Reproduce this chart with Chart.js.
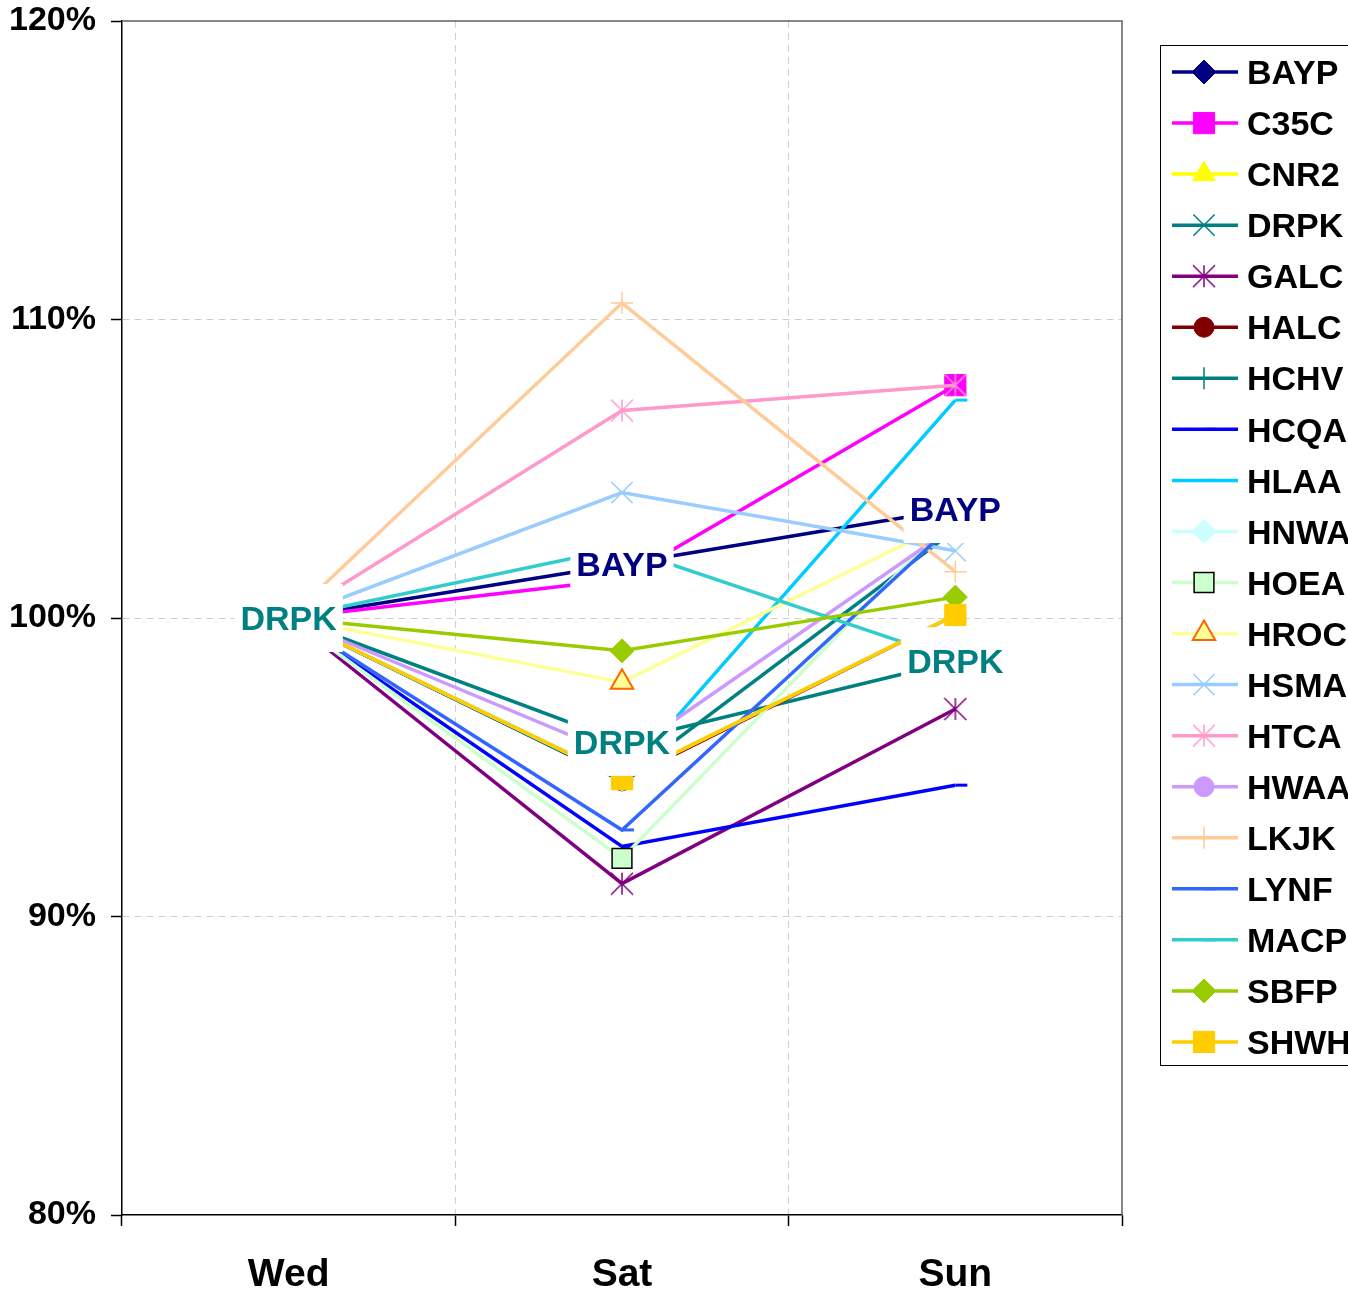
<!DOCTYPE html>
<html>
<head>
<meta charset="utf-8">
<script src="https://cdn.jsdelivr.net/npm/chart.js@4.4.1/dist/chart.umd.min.js"></script>
<style>
  html, body { margin: 0; padding: 0; background: #ffffff; overflow: hidden; }
  canvas { display: block; }
</style>
</head>
<body>
<canvas id="chart" width="1348" height="1295"></canvas>
<script>
// Categories (days) and y-axis ticks, in percent of the Wednesday baseline
const days = ['Wed', 'Sat', 'Sun'];
const yTicks = [80, 90, 100, 110, 120];

// Series values, percent
const BAYP = [100, 101.8, 103.65];
const C35C = [100, 101.3, 107.8];
const CNR2 = [100, 94.6, 100.1];
const DRPK = [100, 95.85, 98.55];
const GALC = [100, 91.1, 96.95];
const HALC = [100, 94.55, 100.1];
const HCHV = [100, 94.55, 102.95];
const HCQA = [100, 92.35, 94.4];
const HLAA = [100, 94.6, 107.3];
const HNWA = [100, 94.6, 100.1];
const HOEA = [100, 91.95, 103.5];
const HROC = [100, 97.85, 103.3];
const HSMA = [100, 104.2, 102.25];
const HTCA = [100, 106.95, 107.8];
const HWAA = [100, 95.35, 103.1];
const LKJK = [100, 110.55, 101.55];
const LYNF = [100, 92.9, 103.2];
const MACP = [100, 102.35, 98.6];
const SBFP = [100, 98.9, 100.7];
const SHWH = [100, 94.6, 100.1];

const seriesNames = ['BAYP','C35C','CNR2','DRPK','GALC','HALC','HCHV','HCQA','HLAA','HNWA',
                     'HOEA','HROC','HSMA','HTCA','HWAA','LKJK','LYNF','MACP','SBFP','SHWH'];
const seriesValues = [BAYP, C35C, CNR2, DRPK, GALC, HALC, HCHV, HCQA, HLAA, HNWA,
                      HOEA, HROC, HSMA, HTCA, HWAA, LKJK, LYNF, MACP, SBFP, SHWH];

// Points that carry a name label
const labelledPoints = [
  { series: 'BAYP', index: 1 }, { series: 'BAYP', index: 2 },
  { series: 'DRPK', index: 0 }, { series: 'DRPK', index: 1 }, { series: 'DRPK', index: 2 }
];

// Line and marker styles per series
const seriesStyles = {
  BAYP: { color: '#000080', marker: 'rectRot',  r: 12, bw: 1 },
  C35C: { color: '#FF00FF', marker: 'rect',     r: 15, bw: 1 },
  CNR2: { color: '#FFFF00', marker: 'triangle', r: 13, bw: 1 },
  DRPK: { color: '#008080', marker: 'crossRot', r: 15, bw: 1.5 },
  GALC: { color: '#800080', marker: 'asterisk', r: 11, bw: 1.5 },
  HALC: { color: '#800000', marker: 'circle',   r: 10, bw: 1 },
  HCHV: { color: '#008080', marker: 'cross',    r: 11, bw: 1.5 },
  HCQA: { color: '#0000FF', marker: 'dash',     r: 12, bw: 3 },
  HLAA: { color: '#00CCFF', marker: 'dash',     r: 12, bw: 3 },
  HNWA: { color: '#CCFFFF', marker: 'rectRot',  r: 12, bw: 1 },
  HOEA: { color: '#CCFFCC', marker: 'rect',     r: 14, bw: 1.5, stroke: '#000000' },
  HROC: { color: '#FFFF99', marker: 'triangle', r: 13, bw: 2,   stroke: '#FF6600' },
  HSMA: { color: '#99CCFF', marker: 'crossRot', r: 15, bw: 1.5 },
  HTCA: { color: '#FF99CC', marker: 'asterisk', r: 11, bw: 1.5 },
  HWAA: { color: '#CC99FF', marker: 'circle',   r: 10, bw: 1 },
  LKJK: { color: '#FFCC99', marker: 'cross',    r: 11, bw: 1.5 },
  LYNF: { color: '#3366FF', marker: 'dash',     r: 12, bw: 3 },
  MACP: { color: '#33CCCC', marker: 'dash',     r: 12, bw: 3 },
  SBFP: { color: '#99CC00', marker: 'rectRot',  r: 12, bw: 1 },
  SHWH: { color: '#FFCC00', marker: 'rect',     r: 15, bw: 1 }
};

const FONT_FAMILY = "'Liberation Sans', Arial, Helvetica, sans-serif";
const LINE_WIDTH = 3.5;

// Six-spoke asterisk marker (an X plus a vertical stroke)
function asteriskMarker(color, r, lw) {
  const size = Math.ceil(2 * r + 2);
  const c = document.createElement('canvas');
  c.width = size; c.height = size;
  const g = c.getContext('2d');
  const m = size / 2;
  g.strokeStyle = color;
  g.lineWidth = lw;
  g.beginPath();
  g.moveTo(m - r, m - r); g.lineTo(m + r, m + r);
  g.moveTo(m + r, m - r); g.lineTo(m - r, m + r);
  g.moveTo(m, m - r); g.lineTo(m, m + r);
  g.stroke();
  return c;
}

const N = seriesNames.length;
const datasets = seriesNames.map((name, i) => {
  const st = seriesStyles[name];
  const style = st.marker === 'asterisk' ? asteriskMarker(st.color, st.r, st.bw) : st.marker;
  return {
    label: name,
    data: seriesValues[i],
    borderColor: st.color,
    backgroundColor: st.color,
    borderWidth: LINE_WIDTH,
    tension: 0,
    fill: false,
    pointStyle: style,
    pointRadius: st.r,
    pointHoverRadius: st.r,
    pointBorderWidth: st.bw,
    pointBackgroundColor: st.color,
    pointBorderColor: st.stroke || st.color,
    order: N - i   // later series are painted on top
  };
});

// Frame along the top and right of the plot area
const plotFrame = {
  id: 'plotFrame',
  beforeDatasetsDraw(chart) {
    const { ctx, chartArea: a } = chart;
    ctx.save();
    ctx.strokeStyle = '#606060';
    ctx.lineWidth = 1.5;
    ctx.beginPath();
    ctx.moveTo(a.left, a.top);
    ctx.lineTo(a.right, a.top);
    ctx.lineTo(a.right, a.bottom);
    ctx.stroke();
    ctx.restore();
  }
};

// Series-name labels on white boxes at selected points
const nameLabels = {
  id: 'nameLabels',
  afterDatasetsDraw(chart) {
    const ctx = chart.ctx;
    const size = 34;
    ctx.save();
    ctx.font = 'bold ' + size + 'px ' + FONT_FAMILY;
    ctx.textAlign = 'center';
    ctx.textBaseline = 'alphabetic';
    labelledPoints.forEach(lp => {
      const di = seriesNames.indexOf(lp.series);
      const pt = chart.getDatasetMeta(di).data[lp.index];
      const w = ctx.measureText(lp.series).width + 12;
      const h = 68;
      ctx.fillStyle = '#ffffff';
      ctx.fillRect(pt.x - w / 2, pt.y - h / 2, w, h);
      ctx.fillStyle = seriesStyles[lp.series].color;
      ctx.fillText(lp.series, pt.x, pt.y + size * 0.358);
    });
    ctx.restore();
  }
};

// Boxed legend down the right side: line sample, marker, name
const sideLegend = {
  id: 'sideLegend',
  afterDraw(chart) {
    const ctx = chart.ctx;
    const boxLeft = 1160, boxTop = 45, boxBottom = 1065;
    const firstY = 72, step = 51.05;
    const size = 34;
    ctx.save();
    ctx.strokeStyle = '#000000';
    ctx.lineWidth = 1;
    ctx.strokeRect(boxLeft + 0.5, boxTop + 0.5, 400, boxBottom - boxTop);
    chart.data.datasets.forEach((ds, i) => {
      const y = firstY + i * step;
      ctx.strokeStyle = ds.borderColor;
      ctx.lineWidth = LINE_WIDTH;
      ctx.beginPath();
      ctx.moveTo(1172, y);
      ctx.lineTo(1238, y);
      ctx.stroke();
      ctx.fillStyle = ds.pointBackgroundColor;
      ctx.strokeStyle = ds.pointBorderColor;
      ctx.lineWidth = ds.pointBorderWidth;
      Chart.helpers.drawPoint(ctx, {
        pointStyle: ds.pointStyle, radius: ds.pointRadius,
        borderWidth: ds.pointBorderWidth, rotation: 0
      }, 1204, y);
      ctx.fillStyle = '#000000';
      ctx.font = 'bold ' + size + 'px ' + FONT_FAMILY;
      ctx.textAlign = 'left';
      ctx.textBaseline = 'alphabetic';
      ctx.fillText(ds.label, 1247, y + size * 0.358);
    });
    ctx.restore();
  }
};

const GRID = '#cfcfcf';
const CLEAR = 'rgba(0,0,0,0)';

new Chart(document.getElementById('chart'), {
  type: 'line',
  data: { labels: days, datasets },
  options: {
    responsive: false,
    animation: false,
    devicePixelRatio: 1,
    events: [],
    layout: { padding: { top: 21, right: 226, left: 0, bottom: 0 } },
    plugins: { legend: { display: false }, tooltip: { enabled: false } },
    scales: {
      x: {
        offset: true,
        grid: {
          offset: true,
          color: c => (c.index === 1 || c.index === 2) ? GRID : CLEAR,
          lineWidth: 1,
          tickColor: '#000000',
          tickWidth: 1.5,
          tickLength: 11,
          tickBorderDash: []
        },
        border: { display: true, color: '#000000', width: 1.5, dash: [7, 5] },
        ticks: {
          color: '#000000',
          font: { family: FONT_FAMILY, size: 39, weight: 'bold' },
          padding: 26,
          maxRotation: 0
        },
        afterFit: s => { s.height = 80; s.paddingLeft = 0; s.paddingRight = 0; }
      },
      y: {
        min: yTicks[0],
        max: yTicks[yTicks.length - 1],
        afterBuildTicks: s => { s.ticks = yTicks.map(v => ({ value: v })); },
        grid: {
          color: c => (c.tick && c.tick.value > yTicks[0] && c.tick.value < yTicks[yTicks.length - 1]) ? GRID : CLEAR,
          lineWidth: 1,
          tickColor: '#000000',
          tickWidth: 1.5,
          tickLength: 11,
          tickBorderDash: []
        },
        border: { display: true, color: '#000000', width: 1.5, dash: [7, 5] },
        ticks: {
          color: '#000000',
          font: { family: FONT_FAMILY, size: 34, weight: 'bold' },
          padding: 15,
          callback: v => v + '%'
        },
        afterFit: s => { s.width = 122; s.paddingTop = 0; s.paddingBottom = 0; }
      }
    }
  },
  plugins: [plotFrame, nameLabels, sideLegend]
});
</script>
</body>
</html>
